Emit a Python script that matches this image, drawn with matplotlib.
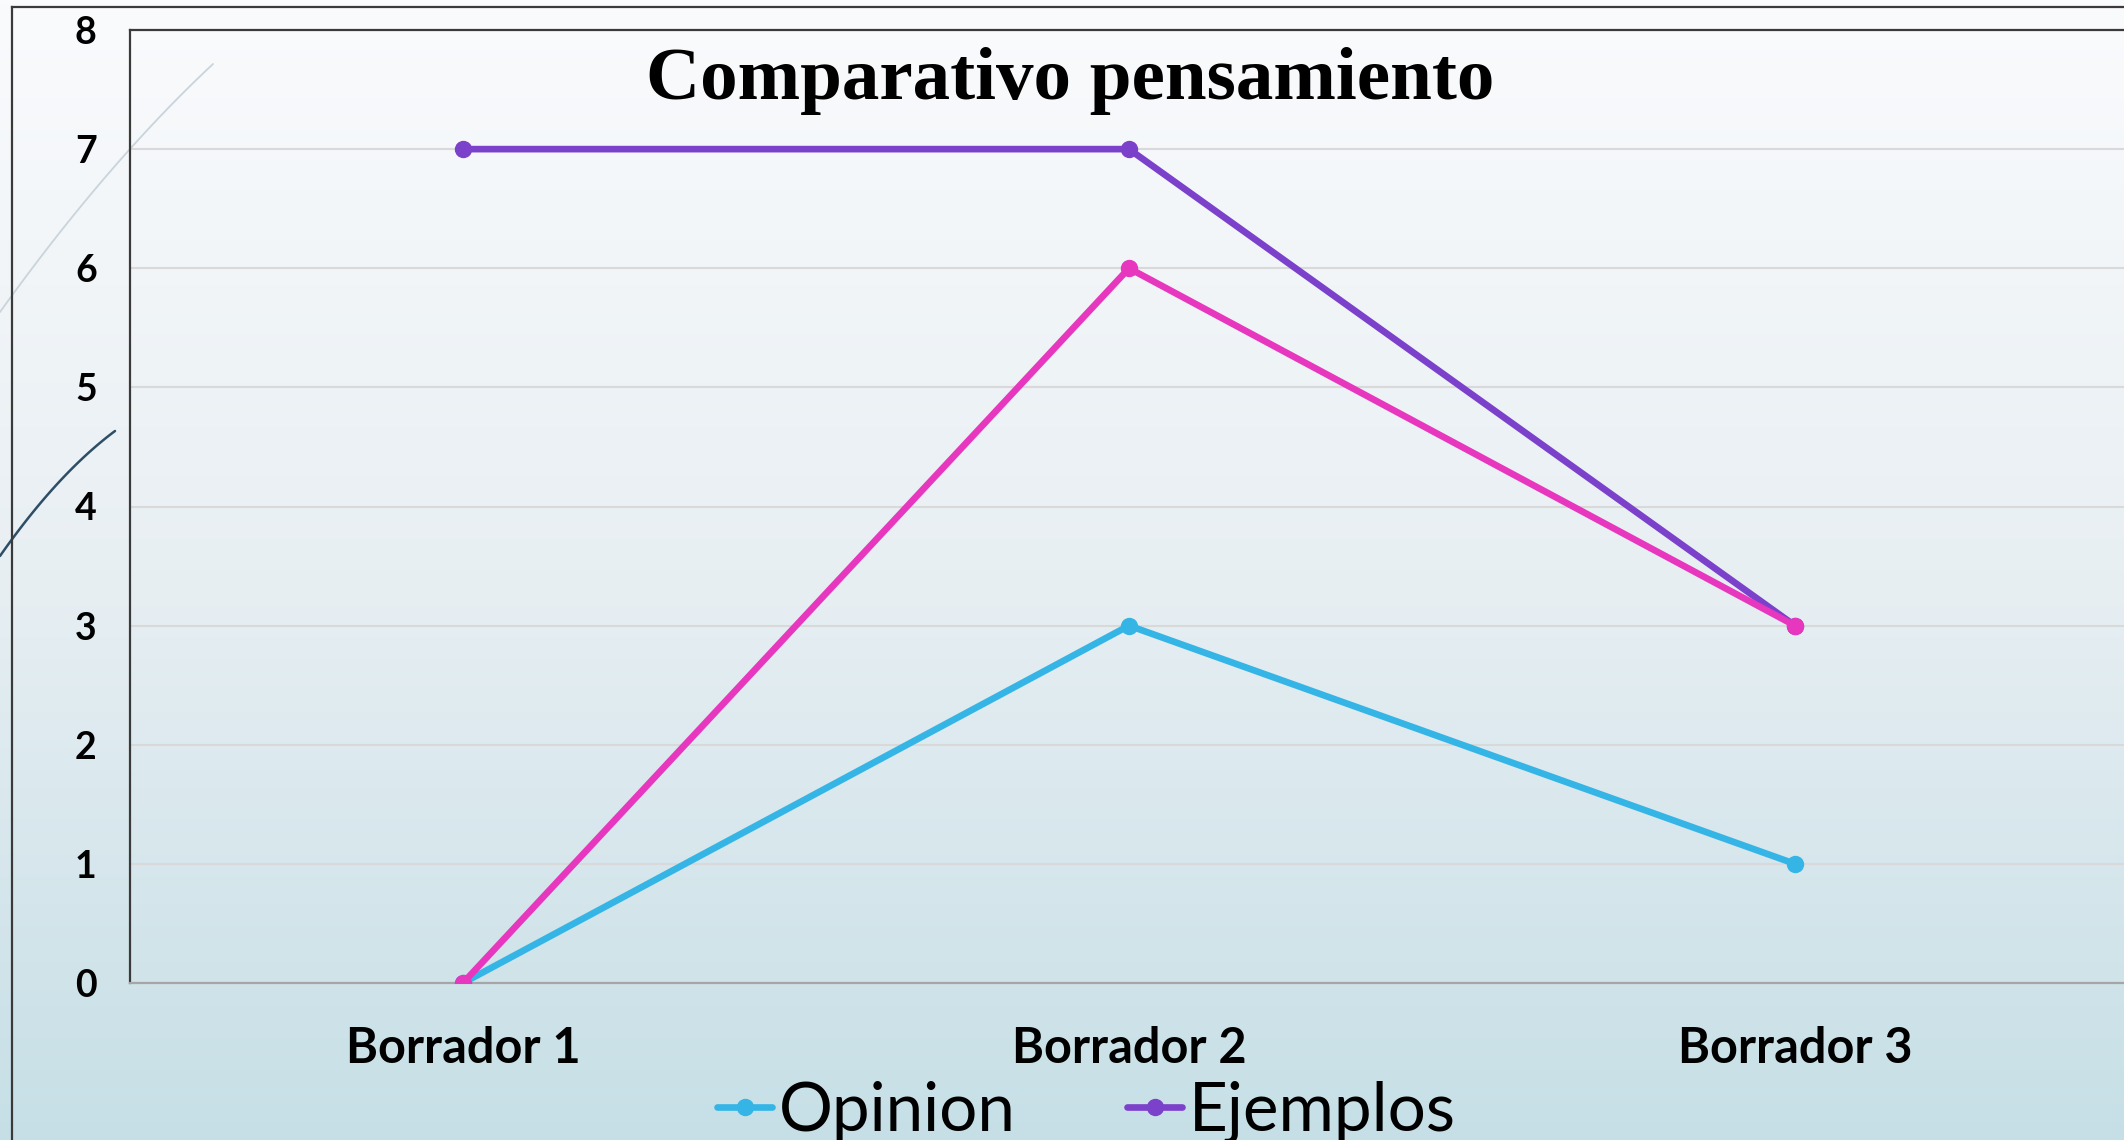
import matplotlib
matplotlib.use("Agg")
import matplotlib.pyplot as plt
import numpy as np
from matplotlib.colors import LinearSegmentedColormap

# ---- data ----
categories = ["Borrador 1", "Borrador 2", "Borrador 3"]
opinion = [0, 3, 1]
ejemplos = [7, 7, 3]
serie3 = [0, 6, 3]
yticks = [0, 1, 2, 3, 4, 5, 6, 7, 8]
title = "Comparativo pensamiento"
legend_labels = ["Opinion", "Ejemplos"]

W, H = 2124, 1140
fig = plt.figure(figsize=(W / 100, H / 100), dpi=100)

# ---- background (slide) ----
bg = fig.add_axes([0, 0, 1, 1], zorder=0)
grad = np.linspace(0, 1, 256).reshape(-1, 1)
cmap = LinearSegmentedColormap.from_list("bg", ["#FAFBFD", "#E8EFF3", "#C6DFE6"])
bg.imshow(grad, aspect="auto", cmap=cmap, extent=[0, W, H, 0])
bg.set_xlim(0, W)
bg.set_ylim(H, 0)
bg.axis("off")
# decorative smooth curves
c1 = np.polyfit([0, 130, 213], [312, 149, 64], 2)
xs1 = np.linspace(0, 213, 100)
bg.plot(xs1, np.polyval(c1, xs1), color="#C9D4DB", lw=1.3, solid_capstyle="round")
c2 = np.polyfit([0, 50, 115], [556, 492, 431], 2)
xs2 = np.linspace(0, 115, 100)
bg.plot(xs2, np.polyval(c2, xs2), color="#2E4E66", lw=1.8, solid_capstyle="round")
# slide frame
bg.plot([12, 12], [7, H], color="#3A3A3A", lw=1.6)
bg.plot([12, W], [7, 7], color="#3A3A3A", lw=1.6)

# ---- chart ----
ax = fig.add_axes([130 / W, 157 / H, (2128 - 130) / W, (983 - 30) / H], zorder=1)
ax.patch.set_alpha(0)
x = np.arange(len(categories))
lw, ms = 4.8, 11.5
l1, = ax.plot(x, opinion, color="#35B5E6", lw=lw, marker="o", ms=ms,
              solid_capstyle="round", zorder=3)
l2, = ax.plot(x, ejemplos, color="#7C41CB", lw=lw, marker="o", ms=ms,
              solid_capstyle="round", zorder=4)
l3, = ax.plot(x, serie3, color="#E637BE", lw=lw, marker="o", ms=ms,
              solid_capstyle="round", zorder=5)

ax.set_xlim(-0.5, 2.5)
ax.set_ylim(0, 8)
ax.set_yticks(yticks)
ax.set_yticklabels([str(v) for v in yticks], fontfamily="Lato", fontweight="bold",
                   fontsize=27)
ax.set_xticks(x)
ax.set_xticklabels(categories, fontfamily="Lato", fontweight="bold", fontsize=35)
ax.tick_params(axis="y", length=0, pad=24)
ax.tick_params(axis="x", length=0, pad=31)
ax.yaxis.grid(True, color="#D9D9D9", lw=1.5)
ax.set_axisbelow(True)
for s in ["top", "left"]:
    ax.spines[s].set_color("#3A3A3A")
    ax.spines[s].set_linewidth(1.6)
ax.spines["bottom"].set_color("#A6A6A6")
ax.spines["bottom"].set_linewidth(1.6)
ax.spines["right"].set_visible(False)

fig.text(1070 / W, 1 - 99 / H, title, ha="center", va="baseline",
         fontfamily="Liberation Serif", fontweight="bold", fontsize=54)

leg = fig.legend([l1, l2], legend_labels, loc="center left",
                 bbox_to_anchor=(717 / W, 1 - 1112 / H), ncol=2, frameon=False,
                 prop={"family": "Lato", "weight": "normal", "size": 48.5},
                 handlelength=0.82, handletextpad=0.1, columnspacing=1.65,
                 borderpad=0, borderaxespad=0)

fig.savefig("out.png", dpi=100)
